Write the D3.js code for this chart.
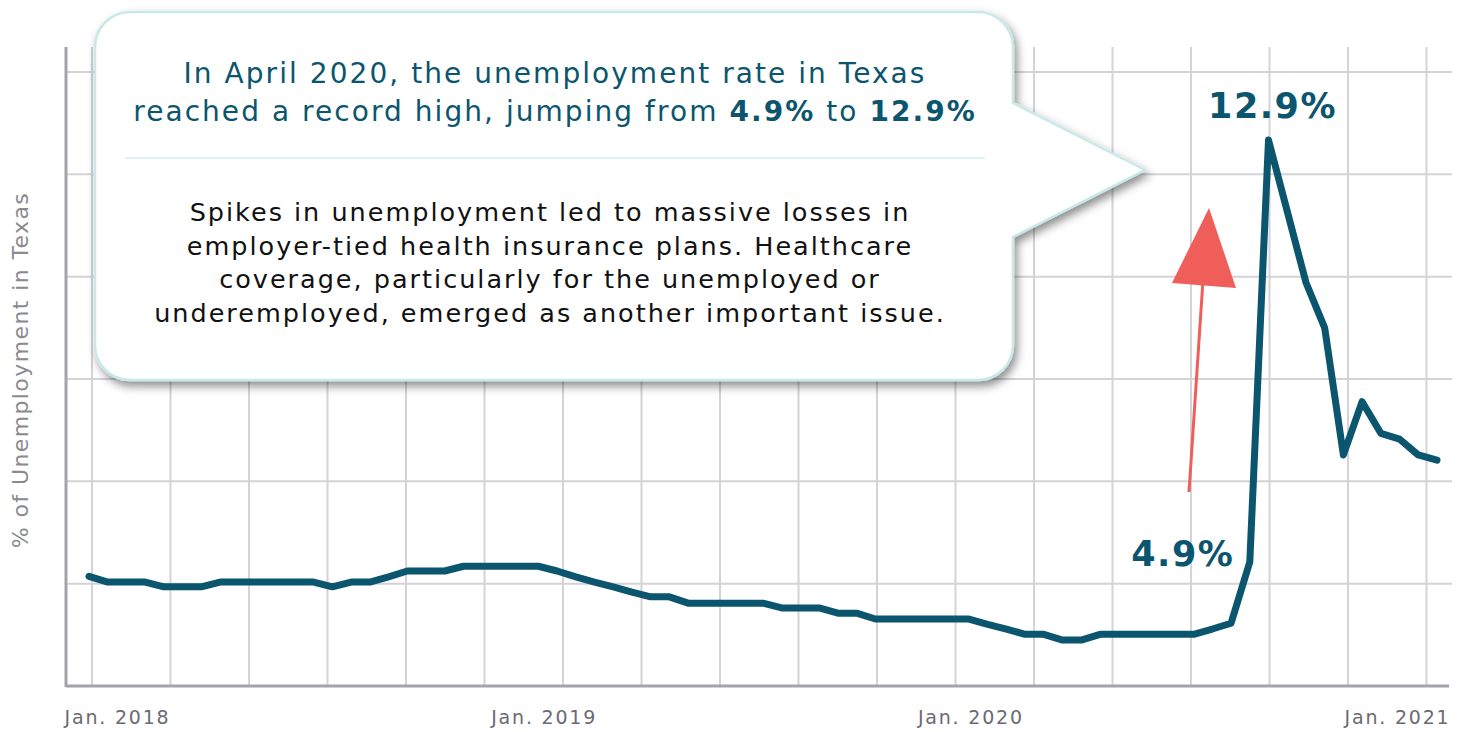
<!DOCTYPE html>
<html>
<head>
<meta charset="utf-8">
<script src="https://cdn.jsdelivr.net/npm/d3@7"></script>
<style>
  body { margin: 0; background: #fff; }
  svg { display: block; font-family: "DejaVu Sans", Verdana, sans-serif; }
</style>
</head>
<body>
<div id="chart-area"></div>
<script>
// monthly series, Jan 2015 .. Jan 2021
var months = d3.timeMonth.range(new Date(2015, 0, 1), new Date(2021, 1, 1)).map(d3.timeFormat("%Y-%m"));
var rates = [4.63, 4.52, 4.52, 4.52, 4.43, 4.43, 4.43, 4.52, 4.52, 4.52, 4.52, 4.52, 4.52,
  4.43, 4.52, 4.52, 4.62, 4.73, 4.73, 4.73, 4.82, 4.82, 4.82, 4.82, 4.82,
  4.73, 4.62, 4.52, 4.43, 4.33, 4.24, 4.24, 4.12, 4.12, 4.12, 4.12, 4.12,
  4.03, 4.03, 4.03, 3.93, 3.93, 3.82, 3.82, 3.82, 3.82, 3.82, 3.82,
  3.72, 3.63, 3.53, 3.53, 3.42, 3.42, 3.53, 3.53, 3.53, 3.53, 3.53, 3.53,
  3.63, 3.74, 4.9, 12.9, 11.55, 10.2, 9.34, 6.93, 7.94, 7.34, 7.23, 6.93, 6.83];
var tickLabels = ["Jan. 2018", "Jan. 2019", "Jan. 2020", "Jan. 2021"];
var yTitle = "% of Unemployment in Texas";
var titleLine1 = "In April 2020, the unemployment rate in Texas";
var titleLine2 = [["reached a record high, jumping from ", false], ["4.9%", true], [" to ", false], ["12.9%", true]];
var bodyLines = [
  "Spikes in unemployment led to massive losses in",
  "employer-tied health insurance plans. Healthcare",
  "coverage, particularly for the unemployed or",
  "underemployed, emerged as another important issue."
];

var width = 1466, height = 732;
var margin = { top: 72, right: 17, bottom: 46, left: 66 };
var chartWidth = width - margin.left - margin.right;
var chartHeight = height - margin.top - margin.bottom;
var lineColor = "#0b556e";

var svg = d3.select("#chart-area")
  .append("svg")
  .attr("width", width)
  .attr("height", height);

var defs = svg.append("defs");
var shadow = defs.append("filter").attr("id", "shadow")
  .attr("x", "-10%").attr("y", "-10%").attr("width", "120%").attr("height", "130%");
shadow.append("feDropShadow")
  .attr("dx", 3).attr("dy", 5).attr("stdDeviation", 5)
  .attr("flood-color", "#000").attr("flood-opacity", 0.45);

var g = svg.append("g")
  .attr("transform", "translate(" + margin.left + ", " + margin.top + ")");

var x = d3.scalePoint().domain(months).range([23, 1371]);
var xTicks = d3.scalePoint().domain(tickLabels).range([51, 1331]);
var xGrid = d3.scaleLinear().domain([0, 17]).range([26, 1360.5]);
var y = d3.scaleLinear().domain([2.55, 14.19]).range([chartHeight, 0]);
var yGrid = d3.range(7).map(i => y.domain()[0] + i * (y.domain()[1] - y.domain()[0]) / 6);

// grid
g.append("g").selectAll("line")
  .data(d3.range(18)).enter()
  .append("line")
  .attr("x1", d => xGrid(d)).attr("x2", d => xGrid(d))
  .attr("y1", -25).attr("y2", chartHeight)
  .attr("stroke", "#d3d3d8").attr("stroke-width", 2);

g.append("g").selectAll("line")
  .data(yGrid.slice(1)).enter()
  .append("line")
  .attr("x1", 0).attr("x2", chartWidth + 3)
  .attr("y1", d => y(d)).attr("y2", d => y(d))
  .attr("stroke", "#d3d3d8").attr("stroke-width", 2);

// axes
g.append("line")
  .attr("x1", 0).attr("x2", 0).attr("y1", -25).attr("y2", chartHeight + 1)
  .attr("stroke", "#a3a3ab").attr("stroke-width", 3);
g.append("line")
  .attr("x1", 0).attr("x2", chartWidth).attr("y1", chartHeight).attr("y2", chartHeight)
  .attr("stroke", "#a3a3ab").attr("stroke-width", 3);

var bottomAxis = d3.axisBottom(xTicks).tickSize(0).tickPadding(25);
var xAxis = g.append("g")
  .attr("class", "x axis")
  .attr("transform", "translate(0, " + chartHeight + ")")
  .call(bottomAxis);
xAxis.select(".domain").remove();
xAxis.selectAll("text")
  .attr("font-family", "'DejaVu Sans', Verdana, sans-serif")
  .attr("font-size", "19px")
  .attr("letter-spacing", "1.8px")
  .attr("fill", "#6a6a72");

svg.append("text")
  .attr("x", -370)
  .attr("y", 28)
  .attr("text-anchor", "middle")
  .attr("transform", "rotate(-90)")
  .attr("font-size", "22px")
  .attr("letter-spacing", "1.4px")
  .attr("fill", "#8a8a8f")
  .text(yTitle);

// series line
var line = d3.line()
  .x((d, i) => x(months[i]))
  .y(d => y(d));

g.append("path")
  .datum(rates)
  .attr("d", line)
  .attr("fill", "none")
  .attr("stroke", lineColor)
  .attr("stroke-width", 7)
  .attr("stroke-linejoin", "round")
  .attr("stroke-linecap", "round");

// value labels
var peakIdx = rates.indexOf(d3.max(rates));
g.append("text")
  .attr("x", x(months[peakIdx]) + 4)
  .attr("y", y(rates[peakIdx]) - 22)
  .attr("text-anchor", "middle")
  .attr("font-size", "35px")
  .attr("font-weight", "bold")
  .attr("letter-spacing", "1.5px")
  .attr("fill", lineColor)
  .text(rates[peakIdx].toFixed(1) + "%");

g.append("text")
  .attr("x", x(months[peakIdx - 1]) - 67)
  .attr("y", y(rates[peakIdx - 1]) + 4)
  .attr("text-anchor", "middle")
  .attr("font-size", "35px")
  .attr("font-weight", "bold")
  .attr("letter-spacing", "1.5px")
  .attr("fill", lineColor)
  .text(rates[peakIdx - 1].toFixed(1) + "%");

// red arrow
var arrow = svg.append("g");
arrow.append("line")
  .attr("x1", 1189).attr("y1", 492).attr("x2", 1203).attr("y2", 280)
  .attr("stroke", "#f05e5a").attr("stroke-width", 3);
arrow.append("path")
  .attr("d", "M1209,208 L1236,288 L1172,283 Z")
  .attr("fill", "#f05e5a");

// callout
var r = 35;
var bx0 = 95, bx1 = 1013, by0 = 12, by1 = 380;
var calloutPath = "M" + (bx0 + r) + "," + by0 +
  " H" + (bx1 - r) + " A" + r + "," + r + " 0 0 1 " + bx1 + "," + (by0 + r) +
  " V103 L1145,170 L" + bx1 + ",237" +
  " V" + (by1 - r) + " A" + r + "," + r + " 0 0 1 " + (bx1 - r) + "," + by1 +
  " H" + (bx0 + r) + " A" + r + "," + r + " 0 0 1 " + bx0 + "," + (by1 - r) +
  " V" + (by0 + r) + " A" + r + "," + r + " 0 0 1 " + (bx0 + r) + "," + by0 + " Z";

var callout = svg.append("g");
callout.append("path")
  .attr("d", calloutPath)
  .attr("fill", "#fff")
  .attr("stroke", "#c9e8e8")
  .attr("stroke-width", 2.5)
  .attr("filter", "url(#shadow)");

callout.append("text")
  .attr("x", 555).attr("y", 83)
  .attr("text-anchor", "middle")
  .attr("font-size", "28px")
  .attr("letter-spacing", "2.05px")
  .attr("fill", lineColor)
  .text(titleLine1);

var t2 = callout.append("text")
  .attr("x", 555).attr("y", 121)
  .attr("text-anchor", "middle")
  .attr("font-size", "28px")
  .attr("letter-spacing", "2.05px")
  .attr("fill", lineColor);
t2.selectAll("tspan")
  .data(titleLine2).enter()
  .append("tspan")
  .attr("font-weight", d => d[1] ? "bold" : "normal")
  .text(d => d[0]);

callout.append("line")
  .attr("x1", 125).attr("x2", 985).attr("y1", 158).attr("y2", 158)
  .attr("stroke", "#d6eeee").attr("stroke-width", 1.5);

callout.append("g").selectAll("text")
  .data(bodyLines).enter()
  .append("text")
  .attr("x", 550)
  .attr("y", (d, i) => 221 + i * 33.5)
  .attr("text-anchor", "middle")
  .attr("font-size", "25.5px")
  .attr("letter-spacing", "2px")
  .attr("fill", "#111")
  .text(d => d);
</script>
</body>
</html>
